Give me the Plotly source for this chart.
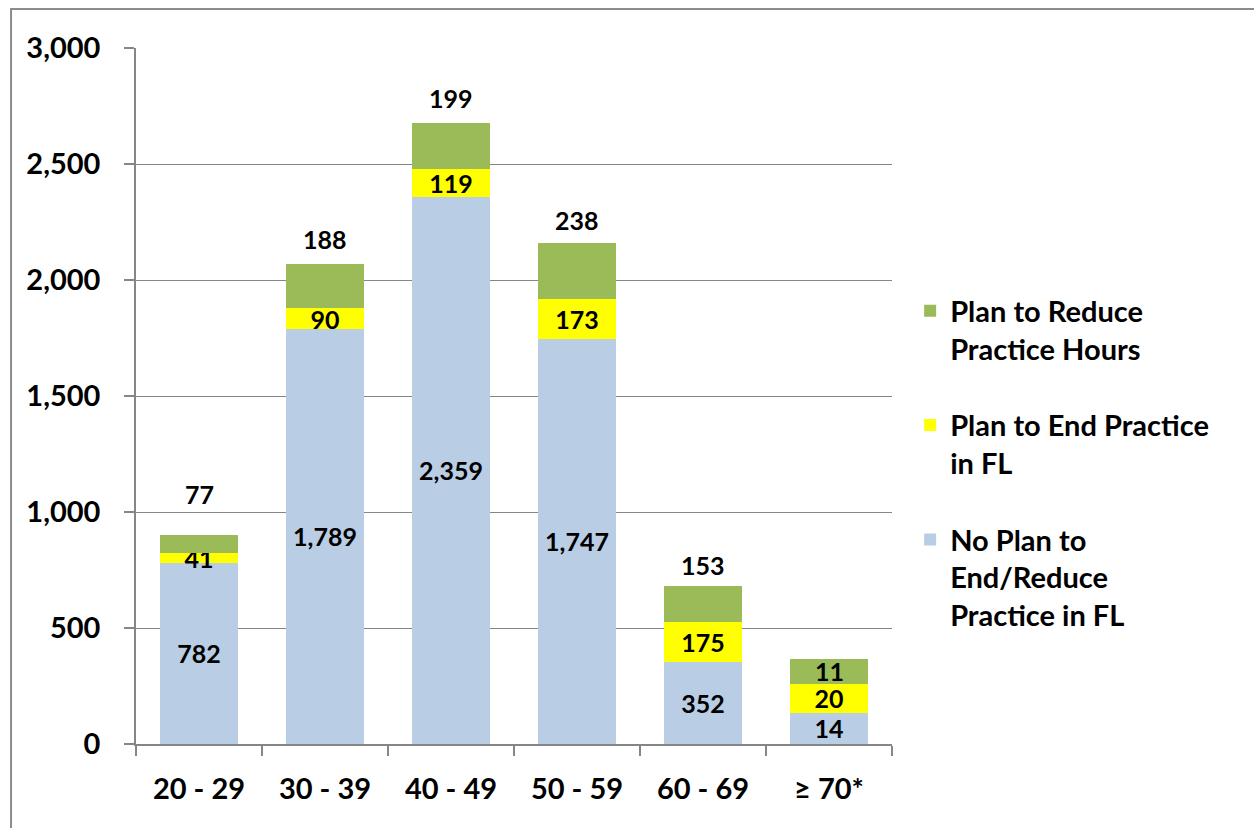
import plotly.graph_objects as go

categories = ["20 - 29", "30 - 39", "40 - 49", "50 - 59", "60 - 69", "≥ 70*"]

# plotted segment heights (as drawn)
no_plan_bar = [782, 1789, 2359, 1747, 352, 134]
end_bar = [41, 90, 119, 173, 175, 125]
reduce_bar = [77, 188, 199, 238, 153, 108]

# printed data labels
no_plan_labels = [782, 1789, 2359, 1747, 352, 14]
end_labels = [41, 90, 119, 173, 175, 20]
reduce_labels = [77, 188, 199, 238, 153, 11]

names = ["No Plan to<br>End/Reduce<br>Practice in FL",
         "Plan to End Practice<br>in FL",
         "Plan to Reduce<br>Practice Hours"]
colors = ["#B9CDE5", "#FFFF00", "#9BBB59"]

y_ticks = [0, 500, 1000, 1500, 2000, 2500, 3000]

# label placement for the top segment (style only)
reduce_label_inside = [False, False, False, False, False, True]
reduce_label_shift = [41, 25, 25, 23, 21, 0]

FONT = "Lato"
GRID = "#868686"

fig = go.Figure()
series = [(no_plan_bar, no_plan_labels, True), (end_bar, end_labels, True), (reduce_bar, reduce_labels, False)]
for i, (vals, labs, show_text) in enumerate(series):
    fig.add_trace(go.Bar(
        x=categories, y=vals, name=names[i],
        marker=dict(color=colors[i], line=dict(width=0)),
        text=[f"{v:,}" for v in labs] if show_text else None,
        textposition="inside", insidetextanchor="middle",
        constraintext="none", textangle=0,
        textfont=dict(family=FONT, size=25, color="black", weight="bold"),
        legendgroup=f"g{i}", legendrank=3 - i, hoverinfo="skip",
    ))

annotations = []
for i, c in enumerate(categories):
    total = no_plan_bar[i] + end_bar[i] + reduce_bar[i]
    if reduce_label_inside[i]:
        y = no_plan_bar[i] + end_bar[i] + reduce_bar[i] / 2
        shift = 0
    else:
        y = total
        shift = reduce_label_shift[i]
    annotations.append(dict(
        x=c, y=y, xref="x", yref="y", text=f"{reduce_labels[i]:,}",
        showarrow=False, yanchor="middle", yshift=shift,
        font=dict(family=FONT, size=25, color="black", weight="bold"),
    ))

fig.update_layout(
    width=1254, height=828,
    margin=dict(l=136, r=362, t=48, b=84),
    paper_bgcolor="white", plot_bgcolor="white",
    barmode="stack", bargap=0.38,
    font=dict(family=FONT, color="black"),
    showlegend=True,
    legend=dict(
        x=1.024, y=0.659, xanchor="left", yanchor="top",
        traceorder="grouped", tracegroupgap=36, valign="top",
        font=dict(family=FONT, size=29, color="black", weight="bold"),
        bgcolor="rgba(0,0,0,0)",
    ),
    annotations=annotations,
    shapes=[dict(type="rect", xref="paper", yref="paper",
                 x0=-0.1653, y0=1.0561, x1=1.49, y1=-0.135,
                 line=dict(color="#8c8c8c", width=2), fillcolor="rgba(0,0,0,0)", layer="below")],
)

fig.update_yaxes(
    range=[0, 3000], tickvals=y_ticks, ticktext=[f"{v:,}" for v in y_ticks],
    showgrid=True, gridcolor=GRID, gridwidth=1.3,
    showline=True, linecolor=GRID, linewidth=1.5,
    ticks="outside", ticklen=10, tickcolor=GRID, tickwidth=1.5,
    ticklabelstandoff=18, zeroline=False,
    tickfont=dict(family=FONT, size=29, color="black", weight="bold"),
)
fig.update_xaxes(
    showline=True, linecolor=GRID, linewidth=1.5,
    ticks="outside", ticklen=10, tickcolor=GRID, tickwidth=1.5,
    tickson="boundaries", ticklabelstandoff=18,
    tickfont=dict(family=FONT, size=29, color="black", weight="bold"),
)

fig.write_html("out.html")
